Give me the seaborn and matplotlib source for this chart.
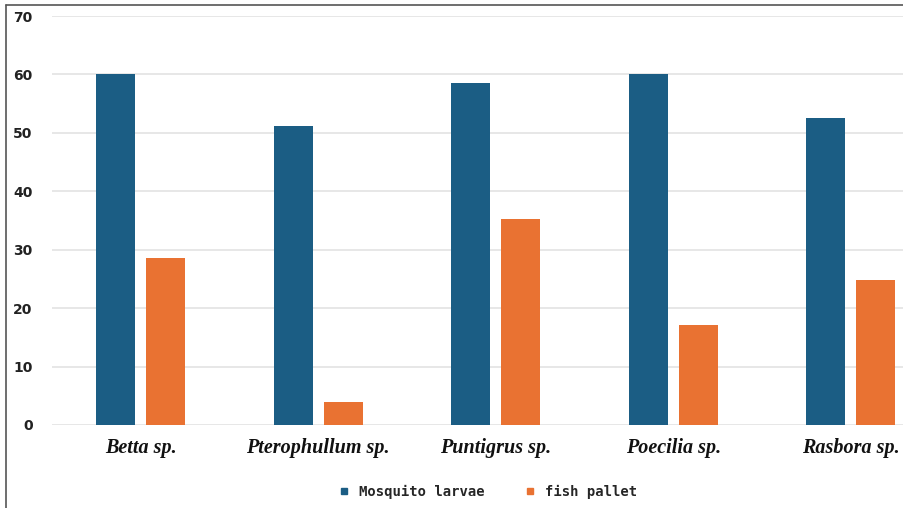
import matplotlib
matplotlib.use("Agg")
import matplotlib.pyplot as plt
from matplotlib.lines import Line2D
import pandas as pd
import seaborn as sns

species = ["Betta sp.", "Pterophullum sp.", "Puntigrus sp.", "Poecilia sp.", "Rasbora sp."]
mosquito_larvae = [60.0, 51.2, 58.5, 60.0, 52.5]
fish_pallet = [28.6, 3.9, 35.3, 17.1, 24.8]
series_names = ["Mosquito larvae", "fish pallet"]
y_ticks = [0, 10, 20, 30, 40, 50, 60, 70]

blue = "#1b5d84"
orange = "#e97232"

df = pd.DataFrame({
    "species": species * 2,
    "value": mosquito_larvae + fish_pallet,
    "feed": [series_names[0]] * len(species) + [series_names[1]] * len(species),
})

sns.set_style("white")
fig = plt.figure(figsize=(9.04, 5.08), dpi=100)
ax = fig.add_axes([52 / 904, 83 / 508, (904 - 52) / 904, 409 / 508])

sns.barplot(data=df, x="species", y="value", hue="feed", order=species,
            hue_order=series_names, palette=[blue, orange], saturation=1,
            width=0.564, gap=0.22, errorbar=None, legend=False, ax=ax,
            linewidth=0, zorder=3)

ax.set_xlim(-0.5, -0.5 + (904 - 52) / 177.5)
ax.set_ylim(0, 70)
ax.set_yticks(y_ticks)
ax.set_yticklabels([str(t) for t in y_ticks], fontsize=10, fontweight="bold",
                   family="DejaVu Sans")
ax.yaxis.grid(True, color="#e0e0e0", linewidth=1.1, zorder=0)
ax.set_axisbelow(True)
for s in ax.spines.values():
    s.set_visible(False)
ax.tick_params(axis="y", length=0, pad=14, colors="#222222")
ax.tick_params(axis="x", length=0, pad=9)
ax.set_xticklabels(species, fontsize=14.5, fontweight="bold", style="italic",
                   family="Liberation Serif", color="#111111")
ax.set_xlabel("")
ax.set_ylabel("")

handles = [Line2D([], [], marker="s", linestyle="none", markersize=5,
                  markerfacecolor=c, markeredgecolor=c) for c in (blue, orange)]
fig.legend(handles, series_names, loc="center", bbox_to_anchor=(0.535, 1 - 492 / 508),
           ncol=2, frameon=False, handletextpad=0.1, columnspacing=2.2,
           prop={"family": "DejaVu Sans Mono", "weight": "bold", "size": 10})

# outer frame on the left and top edges
fig.add_artist(Line2D([6 / 904, 6 / 904], [0, 1 - 5 / 508], color="#555555",
                      linewidth=1.2, transform=fig.transFigure))
fig.add_artist(Line2D([6 / 904, 1], [1 - 5 / 508, 1 - 5 / 508], color="#555555",
                      linewidth=1.2, transform=fig.transFigure))

fig.savefig("out.png", dpi=100)
